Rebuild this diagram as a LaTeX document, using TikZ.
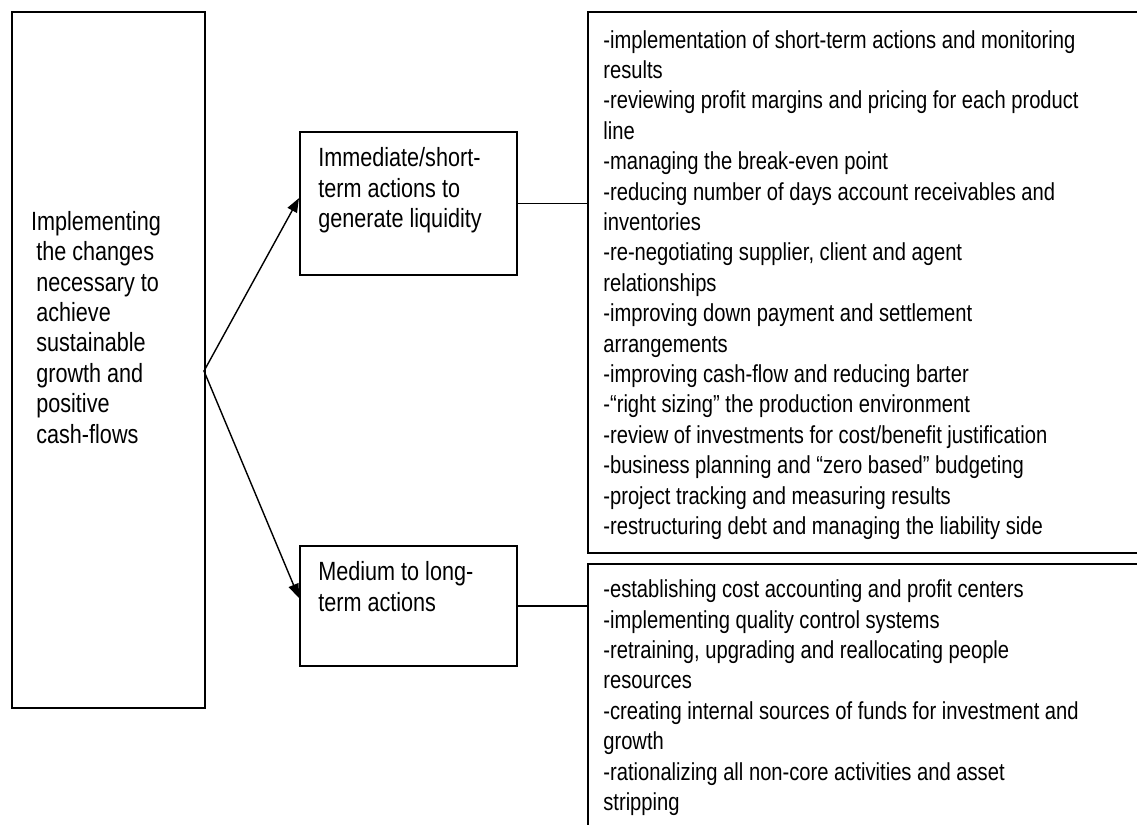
\documentclass[tikz,border=0pt]{standalone}
\usepackage{fontspec}
\setmainfont{Liberation Sans}[FakeStretch=0.82]
\usetikzlibrary{arrows.meta,positioning}

\begin{document}
\begin{tikzpicture}[x=0.02cm,y=-0.02cm,>={Triangle[length=8pt,width=6pt]},
  font=\fontsize{14}{17.3}\selectfont,line cap=round,
  box/.style={draw,line width=1pt,inner sep=0pt,anchor=north west},
  txt/.style={anchor=north west,inner sep=0pt,align=left},
  big/.style={font=\fontsize{15}{17.3}\selectfont},
  link/.style={line width=0.8pt}]
\useasboundingbox (0,0) rectangle (1137,825);
\clip (0,0) rectangle (1137,825);
% boxes
\node[box,minimum width=3.86cm,minimum height=13.92cm] (main) at (11,11) {};
\node[box,minimum width=4.34cm,minimum height=2.86cm] (short) at (299,131) {};
\node[box,minimum width=4.34cm,minimum height=2.4cm] (long) at (299,545) {};
\node[box,minimum width=11.46cm,minimum height=10.82cm] (shortlist) at (587,11) {};
\node[box,minimum width=11.46cm,minimum height=6cm] (longlist) at (587,563) {};
% texts
\node[txt,big] (maintext) at ([xshift=0.5cm,yshift=-4.0cm]main.north west)
  {\hspace*{-3pt}Implementing\\the changes\\necessary to\\achieve\\sustainable\\growth and\\positive\\cash-flows};
\node[txt,big] (shorttext) at ([xshift=0.38cm,yshift=-0.33cm]short.north west)
  {Immediate/short-\\term actions to\\generate liquidity};
\node[txt,big] (longtext) at ([xshift=0.38cm,yshift=-0.33cm]long.north west)
  {Medium to long-\\term actions};
\node[txt] (shortitems) at ([xshift=0.32cm,yshift=-0.38cm]shortlist.north west)
  {-implementation of short-term actions and monitoring\\results\\
   -reviewing profit margins and pricing for each product\\line\\
   -managing the break-even point\\
   -reducing number of days account receivables and\\inventories\\
   -re-negotiating supplier, client and agent\\relationships\\
   -improving down payment and settlement\\arrangements\\
   -improving cash-flow and reducing barter\\
   -“right sizing” the production environment\\
   -review of investments for cost/benefit justification\\
   -business planning and “zero based” budgeting\\
   -project tracking and measuring results\\
   -restructuring debt and managing the liability side};
\node[txt] (longitems) at ([xshift=0.32cm,yshift=-0.33cm]longlist.north west)
  {-establishing cost accounting and profit centers\\
   -implementing quality control systems\\
   -retraining, upgrading and reallocating people\\resources\\
   -creating internal sources of funds for investment and\\growth\\
   -rationalizing all non-core activities and asset\\stripping};
% connectors
\coordinate (split) at (204,371);
\draw[link,->] (split) -- ([yshift=3pt]short.west);
\draw[link,->] (split) -- ([yshift=4.5pt]long.west);
\draw[link] (short.east) -- (short.east -| shortlist.west);
\draw[link] (long.east) -- (long.east -| longlist.west);
\end{tikzpicture}
\end{document}
